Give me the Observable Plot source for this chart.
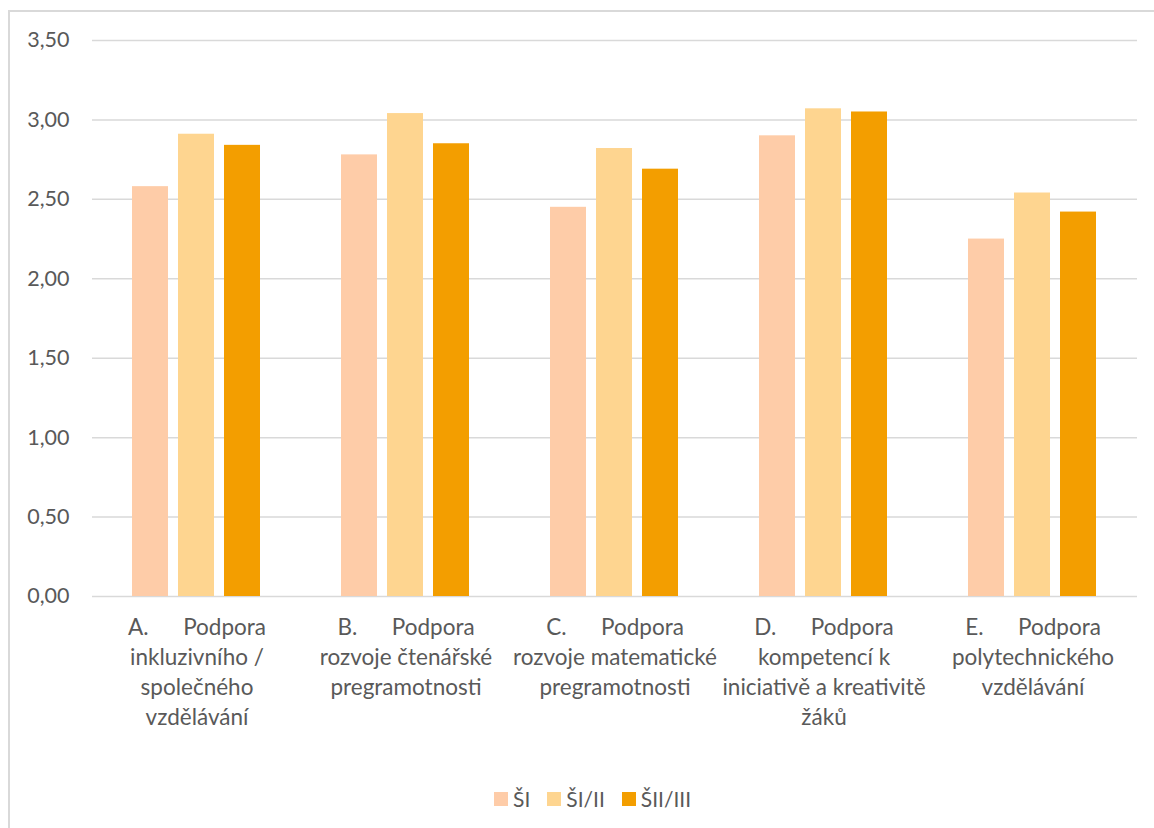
<!DOCTYPE html>
<html>
<head>
<meta charset="utf-8">
<script src="https://cdn.jsdelivr.net/npm/d3@7"></script>
<script src="https://cdn.jsdelivr.net/npm/@observablehq/plot@0.6"></script>
<style>
  html, body { margin: 0; padding: 0; background: #fff; }
  #wrap { position: relative; width: 1154px; height: 828px; overflow: hidden; font-family: Lato, sans-serif; }
  #frame { position: absolute; left: 8px; top: 10px; width: 1200px; height: 900px; border-left: 2px solid #d9d9d9; border-top: 2px solid #d9d9d9; box-sizing: border-box; }
  #chart { position: absolute; left: 0; top: 0; }
  #legend { position: absolute; left: 494px; top: 786px; display: flex; gap: 17px; align-items: center; color: #595959; font-size: 21px; }
  #legend .item { display: flex; align-items: center; gap: 5px; }
  #legend .sw { width: 14px; height: 14px; display: inline-block; }
</style>
</head>
<body>
<div id="wrap">
  <div id="frame"></div>
  <div id="chart"></div>
  <div id="legend"></div>
</div>
<script>
const sp = "\u00a0".repeat(6);
const categories = ["A", "B", "C", "D", "E"];
const categoryLabels = [
  "A." + sp + "Podpora\ninkluzivního /\nspolečného\nvzdělávání",
  "B." + sp + "Podpora\nrozvoje čtenářské\npregramotnosti",
  "C." + sp + "Podpora\nrozvoje matematické\npregramotnosti",
  "D." + sp + "Podpora\nkompetencí k\niniciativě a kreativitě\nžáků",
  "E." + sp + "Podpora\npolytechnického\nvzdělávání"
];
const series = ["ŠI", "ŠI/II", "ŠII/III"];
const valuesSI = [2.58, 2.78, 2.45, 2.90, 2.25];
const valuesSI_II = [2.91, 3.04, 2.82, 3.07, 2.54];
const valuesSII_III = [2.84, 2.85, 2.69, 3.05, 2.42];
const colors = ["#fecca8", "#fed590", "#f39e00"];
const yTicks = [0, 0.5, 1, 1.5, 2, 2.5, 3, 3.5];

const seriesValues = [valuesSI, valuesSI_II, valuesSII_III];
const data = [];
categories.forEach((c, i) => {
  series.forEach((s, j) => data.push({cat: c, series: s, value: seriesValues[j][i]}));
});
const labelOf = Object.fromEntries(categories.map((c, i) => [c, categoryLabels[i]]));

const chart = Plot.plot({
  width: 1154,
  height: 760,
  marginLeft: 91,
  marginRight: 16,
  marginTop: 40,
  marginBottom: 164,
  style: {fontFamily: "Lato, sans-serif", fontSize: "20px", color: "#595959", background: "transparent"},
  fx: {domain: categories, padding: 0, label: null, axis: null},
  x: {domain: series, paddingInner: 0.215, paddingOuter: 0.86, axis: null},
  y: {domain: [0, 3.5], label: null},
  color: {domain: series, range: colors},
  marks: [
    Plot.gridY(yTicks, {stroke: "#d9d9d9", strokeOpacity: 1, strokeWidth: 1.5}),
    Plot.barY(data, {fx: "cat", x: "series", y: "value", fill: "series"}),
    Plot.axisY(yTicks, {tickSize: 0, tickPadding: 23, fontSize: 21.5, tickFormat: d => d.toFixed(2).replace(".", ","), label: null}),
    Plot.axisFx({anchor: "bottom", tickSize: 0, tickPadding: 17, fontSize: 22.5, lineHeight: 1.34, tickFormat: c => labelOf[c], label: null})
  ]
});
document.getElementById("chart").appendChild(chart);

const legend = document.getElementById("legend");
series.forEach((s, i) => {
  const item = document.createElement("div");
  item.className = "item";
  const sw = document.createElement("span");
  sw.className = "sw";
  sw.style.background = colors[i];
  const t = document.createElement("span");
  t.textContent = s;
  item.appendChild(sw);
  item.appendChild(t);
  legend.appendChild(item);
});
</script>
</body>
</html>
